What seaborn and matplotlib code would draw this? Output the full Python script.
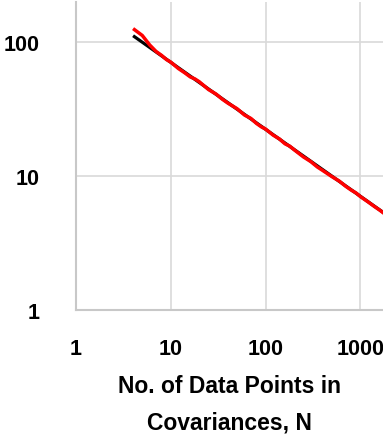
import numpy as np
import pandas as pd
import matplotlib
matplotlib.use("Agg")
import matplotlib.pyplot as plt
import seaborn as sns

# Measured series: N vs. value
n_points = [4, 5, 6, 7, 8, 9, 10, 12, 14, 16, 18, 20, 25, 30, 35, 40, 50, 60, 70,
            80, 90, 100, 120, 140, 160, 180, 200, 250, 300, 350, 400, 500, 600,
            700, 800, 900, 1000, 1200, 1400, 1600, 1800, 2000]
measured = [126, 112, 95, 85, 79.5, 74, 70.8, 63.5, 59.0, 55.0, 53.0, 50.5, 44.2,
            40.9, 37.4, 35.0, 31.8, 28.5, 26.9, 24.7, 23.3, 22.4, 20.2, 18.9, 17.4,
            16.7, 15.7, 13.9, 12.8, 11.7, 11.0, 9.9, 9.15, 8.38, 7.85, 7.47, 7.02,
            6.42, 5.93, 5.56, 5.22, 4.97]

# Power-law trend line (end points)
fit_n = [4, 2000]
fit_val = [111.5, 4.99]

x_ticks = [1, 10, 100, 1000]
x_tick_labels = ["1", "10", "100", "1000"]
y_ticks = [1, 10, 100]
y_tick_labels = ["1", "10", "100"]

sns.set_style("white")
plt.rcParams["font.family"] = ["Liberation Sans", "DejaVu Sans"]
plt.rcParams["text.color"] = "black"
plt.rcParams["axes.labelcolor"] = "black"
plt.rcParams["xtick.color"] = "black"
plt.rcParams["ytick.color"] = "black"

W, H = 383, 439
fig = plt.figure(figsize=(W / 100, H / 100), dpi=100)
ax = fig.add_axes([76 / W, (H - 311) / H, (W - 76) / W, 308 / H])

df_meas = pd.DataFrame({"N": n_points, "value": measured})
df_fit = pd.DataFrame({"N": fit_n, "value": fit_val})

sns.lineplot(data=df_fit, x="N", y="value", ax=ax, color="black", lw=2.3,
             solid_capstyle="butt", zorder=3)
sns.lineplot(data=df_meas, x="N", y="value", ax=ax, color="#ff0000", lw=2.5,
             solid_capstyle="butt", zorder=4)

ax.set_xscale("log")
ax.set_yscale("log")
ax.set_xlim(1, 10 ** 3.238)
ax.set_ylim(1, 10 ** 2.299)

ax.set_xticks(x_ticks)
ax.set_xticklabels(x_tick_labels)
ax.set_yticks(y_ticks)
ax.set_yticklabels(y_tick_labels)
ax.minorticks_off()

ax.grid(True, which="major", color="#d9d9d9", lw=1.2)
ax.set_axisbelow(True)
for side in ["top", "right"]:
    ax.spines[side].set_visible(False)
for side in ["left", "bottom"]:
    ax.spines[side].set_color("#c8c8c8")
    ax.spines[side].set_linewidth(1.5)

ax.tick_params(axis="both", length=0, labelsize=15.5, labelcolor="black")
ax.tick_params(axis="x", pad=20)
ax.tick_params(axis="y", pad=26)
for lab in ax.get_xticklabels() + ax.get_yticklabels():
    lab.set_fontweight("bold")

ax.set_xlabel("No. of Data Points in\nCovariances, N", fontsize=16.5,
              fontweight="bold", labelpad=11, linespacing=1.75, color="black")
ax.set_ylabel("")

fig.savefig("out.png", dpi=100)
